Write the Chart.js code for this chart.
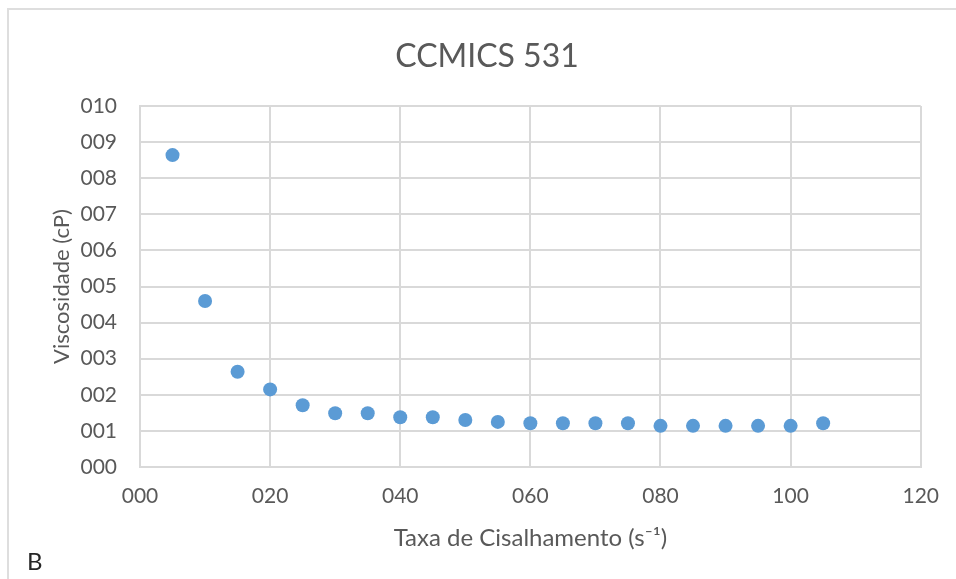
<!DOCTYPE html>
<html>
<head>
<meta charset="utf-8">
<script src="https://cdn.jsdelivr.net/npm/chart.js@4"></script>
<style>
  html, body { margin: 0; padding: 0; background: #ffffff; }
  body { width: 956px; height: 579px; position: relative; overflow: hidden; }
  #frame { position: absolute; left: 7px; top: 8px; width: 980px; height: 600px; border: 2px solid #dedede; box-sizing: border-box; }
  #wrap { position: absolute; left: 0; top: 0; width: 956px; height: 579px; }
  #tag { position: absolute; left: 27px; top: 547px; font-family: Lato, sans-serif; font-size: 24px; color: #262626; line-height: 28px; }
</style>
</head>
<body>
<div id="frame"></div>
<div id="wrap"><canvas id="c" width="956" height="579"></canvas></div>
<div id="tag">B</div>
<script>
const chartTitle = "CCMICS 531";
const xAxisTitle = "Taxa de Cisalhamento (s\u207B\u00B9)";
const yAxisTitle = "Viscosidade (cP)";
const shearRate = [5, 10, 15, 20, 25, 30, 35, 40, 45, 50, 55, 60, 65, 70, 75, 80, 85, 90, 95, 100, 105];
const viscosity = [8.64, 4.60, 2.64, 2.15, 1.71, 1.49, 1.49, 1.38, 1.38, 1.30, 1.25, 1.21, 1.21, 1.21, 1.21, 1.14, 1.14, 1.14, 1.14, 1.14, 1.21];
const xRange = [0, 120, 20];
const yRange = [0, 10, 1];

const points = shearRate.map((x, i) => ({ x: x, y: viscosity[i] }));
const pad3 = v => String(Math.round(v)).padStart(3, '0');
const gridColor = '#d9d9d9';
const textColor = '#595959';
const fam = 'Lato, sans-serif';

new Chart(document.getElementById('c'), {
  type: 'scatter',
  data: {
    datasets: [{
      data: points,
      backgroundColor: '#5b9bd5',
      borderColor: '#5b9bd5',
      borderWidth: 0,
      pointRadius: 7,
      pointHoverRadius: 7
    }]
  },
  options: {
    responsive: false,
    animation: false,
    events: [],
    layout: { padding: { left: 18, right: 0, top: 0, bottom: 0 } },
    plugins: {
      legend: { display: false },
      tooltip: { enabled: false },
      title: {
        display: true,
        text: chartTitle,
        color: textColor,
        font: { family: fam, size: 32, weight: 'normal', lineHeight: 1.2 },
        padding: { top: 37, bottom: 30.6 }
      }
    },
    scales: {
      x: {
        type: 'linear',
        min: xRange[0], max: xRange[1],
        afterFit: s => { s.height = 112; },
        ticks: {
          stepSize: xRange[2],
          color: textColor,
          font: { family: fam, size: 21 },
          padding: 17,
          callback: v => pad3(v),
          maxRotation: 0
        },
        grid: { color: gridColor, lineWidth: 2, drawTicks: false },
        border: { color: gridColor, width: 2 },
        title: {
          display: true,
          text: xAxisTitle,
          color: textColor,
          font: { family: fam, size: 24, lineHeight: 1.2 },
          padding: { top: 0, bottom: 26 }
        }
      },
      y: {
        type: 'linear',
        min: yRange[0], max: yRange[1],
        afterFit: s => { s.width = 122; },
        ticks: {
          stepSize: yRange[2],
          color: textColor,
          font: { family: fam, size: 21 },
          padding: 23,
          callback: v => pad3(v)
        },
        grid: { color: gridColor, lineWidth: 2, drawTicks: false },
        border: { color: gridColor, width: 2 },
        title: {
          display: true,
          text: yAxisTitle,
          color: textColor,
          font: { family: fam, size: 22, lineHeight: 1.2 },
          padding: { top: 30.8, bottom: 0 }
        }
      },
      spacer: {
        type: 'linear',
        position: 'right',
        display: true,
        afterFit: s => { s.width = 35; },
        ticks: { display: false },
        grid: { display: false },
        border: { display: false },
        title: { display: false }
      }
    }
  }
});
</script>
</body>
</html>
